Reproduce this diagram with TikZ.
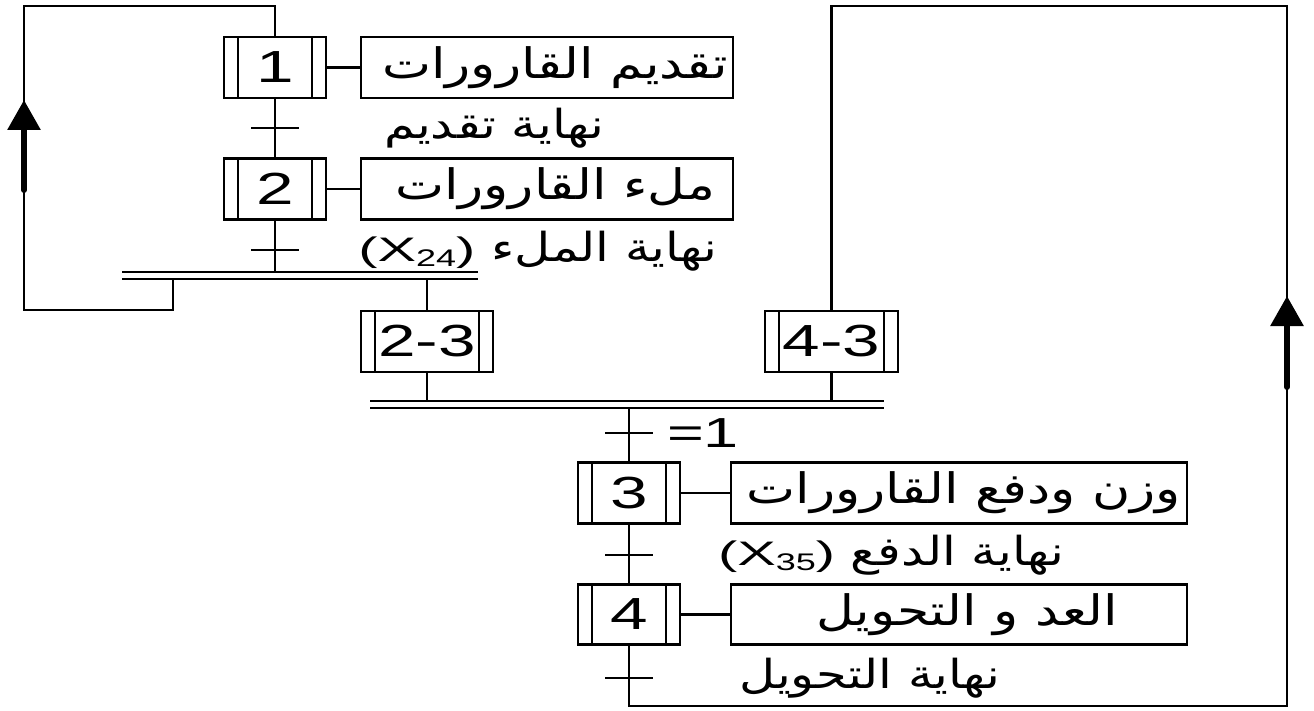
\documentclass[tikz,border=0pt]{standalone}
\usepackage{fontspec}
\setmainfont{Liberation Sans}
\newfontfamily\latinwide[Script=Latin,FakeStretch=1.5]{Liberation Sans}
\newfontfamily\latinwider[Script=Latin,FakeStretch=1.7]{Liberation Sans}
\newfontfamily\arabicfont[Script=Arabic,FakeStretch=1.24]{DejaVu Sans}
\TeXXeTstate=1
\usetikzlibrary{arrows.meta}
\newcommand\stepfont{\latinwide\fontsize{45}{50}\selectfont}
\newcommand\actfont{\arabicfont\fontsize{42}{46}\selectfont}
\newcommand\lblfont{\arabicfont\fontsize{40}{44}\selectfont}
\newcommand\latlbl{\latinwider\fontsize{34}{38}\selectfont}
\newcommand\latsub[1]{\raisebox{-0.3ex}{\latinwide\fontsize{24}{26}\selectfont #1}}
\begin{document}
\begin{tikzpicture}[x=1pt,y=-1pt,line width=2.6pt,
  stepbox/.style={draw,line width=2.6pt,minimum height=61pt,inner sep=0pt,font=\stepfont,
    path picture={
      \draw[line width=2.6pt] ([xshift=14pt]path picture bounding box.north west) -- ([xshift=14pt]path picture bounding box.south west);
      \draw[line width=2.6pt] ([xshift=-14pt]path picture bounding box.north east) -- ([xshift=-14pt]path picture bounding box.south east);}},
  actbox/.style={draw,line width=2.6pt,minimum height=61pt,inner sep=0pt,font=\actfont},
  lbl/.style={inner sep=0pt,font=\lblfont},
  bigarrow/.style={line width=6pt,line cap=round,-{Triangle[width=32pt,length=30pt]}}]
\useasboundingbox (0,0) rectangle (1314,711);
% transition condition "=1"
\node[inner sep=0pt,font=\latinwide\fontsize{42}{46}\selectfont] (eq) at (703,433) {\beginL=\kern0pt 1\endL};
% steps and actions
\node[stepbox,minimum width=102pt] (s1) at (275,67.5) {1};
\node[actbox,minimum width=372pt] (a1) at (547,67.5) {\hspace*{16pt}\beginR تقديم القارورات\endR};
\node[stepbox,minimum width=102pt] (s2) at (275,189) {2};
\node[actbox,minimum width=372pt] (a2) at (547,189) {\hspace*{16pt}\beginR ملء القارورات\endR};
\node[stepbox,minimum width=132pt] (s23) at (427,341.5) {2-3};
\node[stepbox,minimum width=133pt] (s43) at (831.5,341.5) {4-3};
\node[stepbox,minimum width=102pt] (s3) at (629,493) {3};
\node[actbox,minimum width=456pt] (a3) at (959,493) {\hspace*{10pt}\beginR وزن ودفع القارورات\endR};
\node[stepbox,minimum width=102pt,minimum height=60pt] (s4) at (629,614.5) {4};
\node[actbox,minimum width=456pt,minimum height=60pt] (a4) at (959,614.5) {\hspace*{16pt}\beginR العد و التحويل\endR};
% bars
\coordinate (b1a) at (122,272); \coordinate (b1b) at (478,272);
\coordinate (b1c) at (122,279); \coordinate (b1d) at (478,279);
\coordinate (b2a) at (370,401); \coordinate (b2b) at (884,401);
\coordinate (b2c) at (370,408); \coordinate (b2d) at (884,408);
\draw (b1a) -- (b1b); \draw (b1c) -- (b1d);
\draw (b2a) -- (b2b); \draw (b2c) -- (b2d);
% transitions
\coordinate (t1) at (s1.south |- 0,128);
\coordinate (t2) at (s2.south |- 0,250);
\coordinate (t3) at (s3.north |- 0,433);
\coordinate (t4) at (s3.south |- 0,555);
\coordinate (t5) at (s4.south |- 0,678);
\foreach \t in {t1,t2,t3,t4,t5}{\draw ([xshift=-24pt]\t) -- ([xshift=24pt]\t);}
% connectors
\draw (s1.east) -- (a1.west);
\draw (s2.east) -- (a2.west);
\draw (s3.east) -- (a3.west);
\draw (s4.east) -- (a4.west);
\draw (s1.south) -- (s2.north);
\draw (s2.south) -- (s2.south |- b1a);
\draw (s23.north |- b1c) -- (s23.north);
\draw (s23.south) -- (s23.south |- b2a);
\draw (s43.south) -- (s43.south |- b2a);
\draw (s3.north |- b2c) -- (s3.north);
\draw (s3.south) -- (s4.north);
\coordinate (lp) at (173,279);
\draw (lp) |- (24,310) -- (24,6) -| (s1.north);
\draw (s4.south) |- (1287,706) -- (1287,6) -| (s43.north);
\draw[bigarrow] (24,190) -- (24,100);
\draw[bigarrow] (1287,387) -- (1287,296);
% labels
\node[lbl] (l1) at (494,128) {\beginR نهاية تقديم\endR};
\node[lbl] (l2) at (538,251) {\beginR نهاية الملء \beginL{\latlbl(X\latsub{24})}\endL\endR};
\node[lbl] (l3) at (891,555) {\beginR نهاية الدفع \beginL{\latlbl(X\latsub{35})}\endL\endR};
\node[lbl] (l4) at (870,678) {\beginR نهاية التحويل\endR};
\end{tikzpicture}
\end{document}
